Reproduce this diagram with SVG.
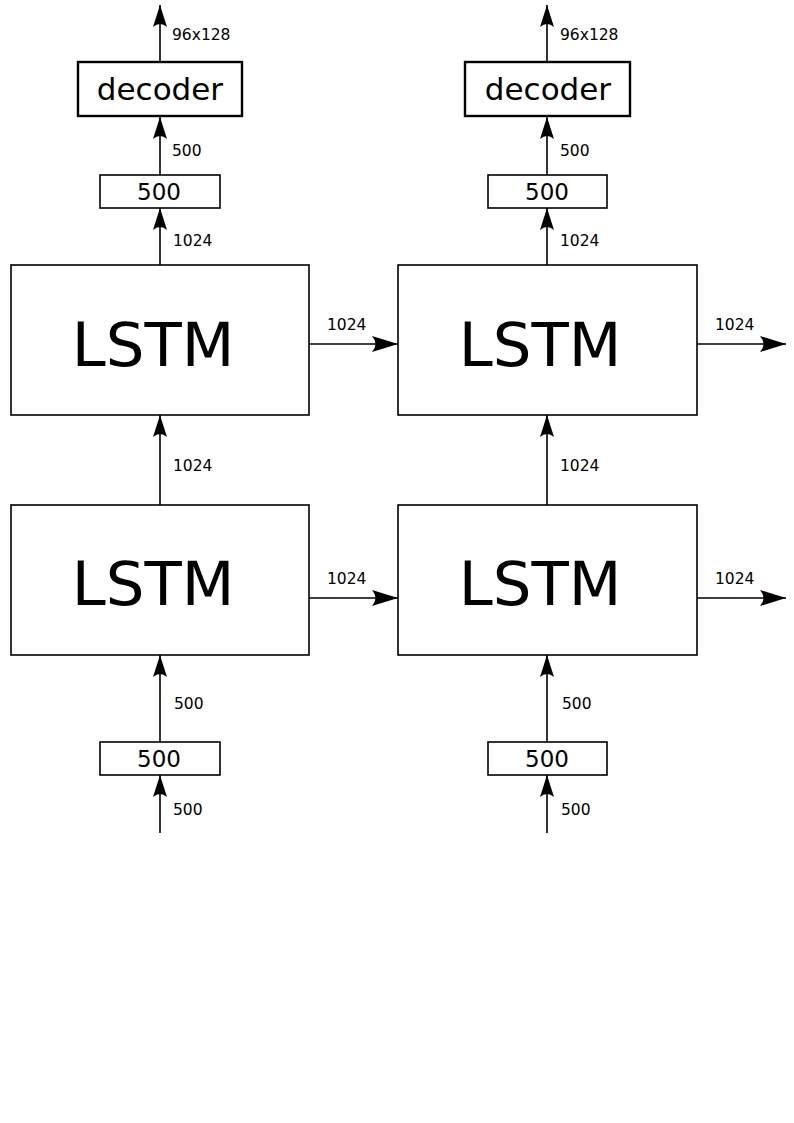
<svg xmlns="http://www.w3.org/2000/svg" width="794" height="1123" viewBox="0 0 794 1123">
  <style>
    .box { fill: #fff; stroke: #000; stroke-width: 1.6; }
    .dec { fill: #fff; stroke: #000; stroke-width: 2.4; }
    .wire { fill: none; stroke: #000; stroke-width: 1.6; }
    .v { marker-end: url(#headV); }
    .h { marker-end: url(#headH); }
    text { font-family: "DejaVu Sans", "Liberation Sans", sans-serif; fill: #000; }
    .lbl { font-size: 15.5px; }
    .big { font-size: 61px; text-anchor: middle; }
    .mid { font-size: 31px; text-anchor: middle; }
    .sm { font-size: 23px; text-anchor: middle; }
  </style>
  <defs>
    <marker id="headV" markerUnits="userSpaceOnUse" viewBox="-24 -8 25 16" refX="0" refY="0" markerWidth="25" markerHeight="16" orient="auto">
      <path d="M0,0 L-22,-7 Q-16,0 -22,7 Z" fill="#000"/>
    </marker>
    <marker id="headH" markerUnits="userSpaceOnUse" viewBox="-28 -9 29 18" refX="0" refY="0" markerWidth="29" markerHeight="18" orient="auto">
      <path d="M0,0 L-26,-8 Q-19,0 -26,8 Z" fill="#000"/>
    </marker>
  </defs>

  <!-- connectors -->
  <g id="connectors">
    <!-- left column -->
    <path class="wire v" d="M160,62 V5"/>
    <path class="wire v" d="M160,175 V117"/>
    <path class="wire v" d="M160,265 V208"/>
    <path class="wire v" d="M160,505 V415"/>
    <path class="wire v" d="M160,742 V655"/>
    <path class="wire v" d="M160,833 V775"/>
    <!-- right column -->
    <path class="wire v" d="M547,62 V5"/>
    <path class="wire v" d="M547,175 V117"/>
    <path class="wire v" d="M547,265 V208"/>
    <path class="wire v" d="M547,505 V415"/>
    <path class="wire v" d="M547,742 V655"/>
    <path class="wire v" d="M547,833 V775"/>
    <!-- recurrent links -->
    <path class="wire h" d="M309,344 H398"/>
    <path class="wire h" d="M697,344 H786"/>
    <path class="wire h" d="M309,598 H398"/>
    <path class="wire h" d="M697,598 H786"/>

    <text class="lbl" x="172" y="40">96x128</text>
    <text class="lbl" x="172" y="156">500</text>
    <text class="lbl" x="173" y="246">1024</text>
    <text class="lbl" x="173" y="471">1024</text>
    <text class="lbl" x="174" y="709">500</text>
    <text class="lbl" x="173" y="815">500</text>

    <text class="lbl" x="560" y="40">96x128</text>
    <text class="lbl" x="560" y="156">500</text>
    <text class="lbl" x="560" y="246">1024</text>
    <text class="lbl" x="560" y="471">1024</text>
    <text class="lbl" x="562" y="709">500</text>
    <text class="lbl" x="561" y="815">500</text>

    <text class="lbl" x="327" y="330">1024</text>
    <text class="lbl" x="715" y="330">1024</text>
    <text class="lbl" x="327" y="584">1024</text>
    <text class="lbl" x="715" y="584">1024</text>
  </g>

  <!-- left column nodes -->
  <g id="decoder-left">
    <rect class="dec" x="78" y="62" width="164" height="54"/>
    <text class="mid" x="160" y="100">decoder</text>
  </g>
  <g id="fc-out-left">
    <rect class="box" x="100" y="175" width="120" height="33"/>
    <text class="sm" x="159" y="200">500</text>
  </g>
  <g id="lstm-top-left">
    <rect class="box" x="11" y="265" width="298" height="150"/>
    <text class="big" x="153" y="366">LSTM</text>
  </g>
  <g id="lstm-bottom-left">
    <rect class="box" x="11" y="505" width="298" height="150"/>
    <text class="big" x="153" y="605">LSTM</text>
  </g>
  <g id="fc-in-left">
    <rect class="box" x="100" y="742" width="120" height="33"/>
    <text class="sm" x="159" y="767">500</text>
  </g>

  <!-- right column nodes -->
  <g id="decoder-right">
    <rect class="dec" x="465" y="62" width="165" height="54"/>
    <text class="mid" x="548" y="100">decoder</text>
  </g>
  <g id="fc-out-right">
    <rect class="box" x="488" y="175" width="119" height="33"/>
    <text class="sm" x="547" y="200">500</text>
  </g>
  <g id="lstm-top-right">
    <rect class="box" x="398" y="265" width="299" height="150"/>
    <text class="big" x="540" y="366">LSTM</text>
  </g>
  <g id="lstm-bottom-right">
    <rect class="box" x="398" y="505" width="299" height="150"/>
    <text class="big" x="540" y="605">LSTM</text>
  </g>
  <g id="fc-in-right">
    <rect class="box" x="488" y="742" width="119" height="33"/>
    <text class="sm" x="547" y="767">500</text>
  </g>
</svg>
